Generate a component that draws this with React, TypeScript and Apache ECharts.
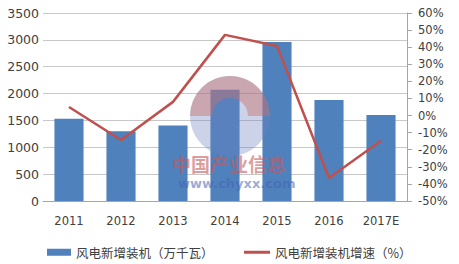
import React, { useEffect, useRef } from "react";
import * as echarts from "echarts";

const categories = ["2011", "2012", "2013", "2014", "2015", "2016", "2017E"];
const installed = [1530, 1300, 1405, 2070, 2960, 1880, 1600];
const growth = [5.0, -14.3, 8.0, 47.2, 40.7, -36.5, -14.8];
const barName = "风电新增装机（万千瓦）";
const lineName = "风电新增装机增速（%）";

export default function App() {
  const ref = useRef<HTMLDivElement>(null);
  useEffect(() => {
    const chart = echarts.init(ref.current!, null, { renderer: "svg" });
    const font = "DejaVu Sans, Verdana, sans-serif";
    chart.setOption({
      animation: false,
      backgroundColor: "#ffffff",
      grid: { left: 43, right: 52, top: 13, bottom: 63 },
      legend: [
        {
          data: [barName],
          left: 45,
          top: 244,
          itemWidth: 24,
          itemHeight: 7,
          icon: "rect",
          padding: 2,
          textStyle: { fontFamily: "Noto Sans CJK SC", fontSize: 12.5, color: "#404040" },
        },
        {
          data: [lineName],
          left: 242,
          top: 244,
          itemWidth: 26,
          itemHeight: 3,
          icon: "rect",
          padding: 2,
          textStyle: { fontFamily: "Noto Sans CJK SC", fontSize: 12.5, color: "#404040" },
        },
      ],
      xAxis: {
        type: "category",
        data: categories,
        axisLine: { lineStyle: { color: "#a6a6a6", width: 1 } },
        axisTick: { show: false },
        axisLabel: { color: "#404040", fontSize: 11.5, fontFamily: font, margin: 14 },
      },
      yAxis: [
        {
          type: "value",
          min: 0,
          max: 3500,
          interval: 500,
          axisLine: { show: false },
          axisTick: { show: false },
          splitLine: { lineStyle: { color: "#c8c8c8", width: 1 } },
          axisLabel: {
            color: "#404040",
            fontSize: 12.5,
            fontFamily: font,
            margin: 4,
            formatter: (v: number) => String(v),
          },
        },
        {
          type: "value",
          min: -50,
          max: 60,
          interval: 10,
          position: "right",
          axisLine: { show: true, lineStyle: { color: "#a6a6a6", width: 1 } },
          axisTick: { show: true, length: 5, lineStyle: { color: "#a6a6a6" } },
          splitLine: { show: false },
          axisLabel: {
            color: "#404040",
            fontSize: 11.5,
            fontFamily: font,
            margin: 11,
            formatter: "{value}%",
          },
        },
      ],
      series: [
        {
          name: barName,
          type: "bar",
          data: installed,
          barWidth: "56%",
          itemStyle: { color: "#4f81bd" },
          z: 2,
        },
        {
          name: lineName,
          type: "line",
          yAxisIndex: 1,
          data: growth,
          symbol: "none",
          lineStyle: { color: "#c0504d", width: 2.5 },
          itemStyle: { color: "#c0504d" },
          z: 3,
        },
      ],
      graphic: [
        {
          type: "circle",
          shape: { cx: 230, cy: 116, r: 40 },
          style: { fill: "rgba(110,130,190,0.35)" },
          z: 10,
        },
        {
          type: "sector",
          shape: { cx: 230, cy: 116, r: 40, r0: 18, startAngle: Math.PI, endAngle: Math.PI * 2 },
          style: { fill: "rgba(200,110,110,0.45)" },
          z: 11,
        },
        {
          type: "text",
          left: 172,
          top: 154,
          style: {
            text: "中国产业信息",
            fill: "rgba(200,90,90,0.6)",
            font: "bold 19px 'Noto Sans CJK SC'",
          },
          z: 12,
        },
        {
          type: "text",
          left: 178,
          top: 177,
          style: {
            text: "www.chyxx.com",
            fill: "rgba(70,100,180,0.55)",
            font: "bold 13px 'DejaVu Sans'",
          },
          z: 12,
        },
      ],
    });
    return () => chart.dispose();
  }, []);
  return <div ref={ref} style={{ width: 459, height: 264, position: "fixed", left: 0, top: 0 }} />;
}
